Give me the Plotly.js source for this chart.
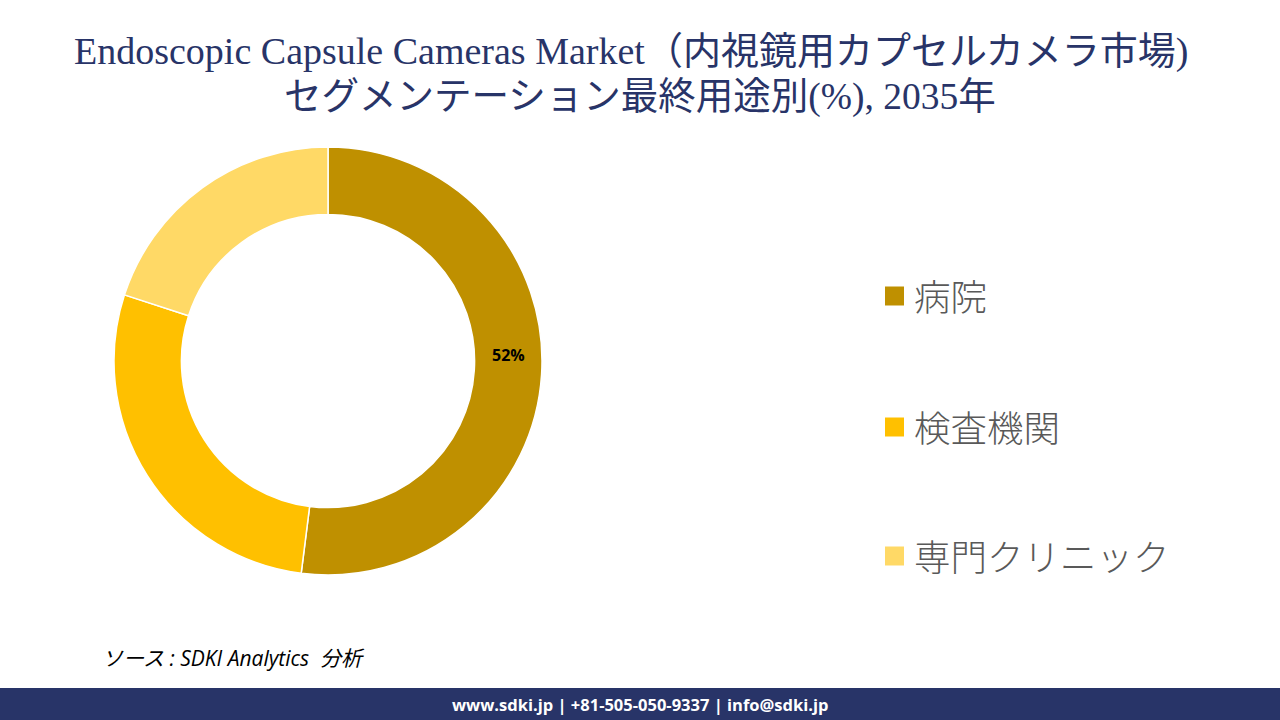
<!DOCTYPE html>
<html><head><meta charset="utf-8">
<script src="https://cdn.plot.ly/plotly-3.0.1.min.js"></script>
<style>html,body{margin:0;padding:0;background:#fff;}#chart{width:1280px;height:720px;}</style>
</head><body><div id="chart"></div>
<script>
const categories = ['病院', '検査機関', '専門クリニック'];
const values = [52, 28, 20];
const colors = ['#BF9000', '#FFC000', '#FFD966'];
const shownLabels = [true, false, false];
const titleLines = ['Endoscopic Capsule Cameras Market（内視鏡用カプセルカメラ市場)', 'セグメンテーション最終用途別(%), 2035年'];
const sourceText = 'ソース : SDKI Analytics  分析';
const footerText = 'www.sdki.jp | +81-505-050-9337 | info@sdki.jp';

const cx = 328, cy = 361, R = 214, hole = 0.685;
const W = 1280, H = 720;

const trace = {
  type: 'pie',
  labels: categories,
  values: values,
  hole: hole,
  sort: false,
  direction: 'clockwise',
  rotation: 0,
  marker: {colors: colors, line: {color: '#ffffff', width: 1.5}},
  textinfo: 'none',
  hoverinfo: 'label+percent',
  showlegend: false,
  domain: {x: [(cx - R) / W, (cx + R) / W], y: [(H - cy - R) / H, (H - cy + R) / H]}
};

const shapes = [];
const annotations = [];

// slice value labels, placed on the ring near the slice mid-angle
const total = values.reduce((a, b) => a + b, 0);
let cum = 0;
values.forEach((v, i) => {
  const mid = (cum + v * 0.47) / total * 2 * Math.PI;
  cum += v;
  if (!shownLabels[i]) return;
  const rr = R * (1 + hole) / 2;
  const px = cx + rr * Math.sin(mid), py = cy - rr * Math.cos(mid);
  annotations.push({xref: 'paper', yref: 'paper', x: px / W, y: (H - py) / H,
    xanchor: 'center', yanchor: 'middle', showarrow: false, text: '<b>' + v + '%</b>',
    font: {family: 'Open Sans, Liberation Sans, sans-serif', size: 16, color: '#000000'}});
});

const legendY = [296, 427, 556];
categories.forEach((c, i) => {
  shapes.push({type: 'rect', xref: 'paper', yref: 'paper',
    x0: 885 / W, x1: 904 / W, y0: (H - legendY[i] - 9.5) / H, y1: (H - legendY[i] + 9.5) / H,
    fillcolor: colors[i], line: {width: 0}});
  annotations.push({xref: 'paper', yref: 'paper', x: 912 / W, y: (H - legendY[i] + 1) / H,
    xanchor: 'left', yanchor: 'middle', showarrow: false, text: c,
    font: {family: 'Noto Sans CJK JP, Noto Sans, sans-serif', size: 36.5, color: '#595959', weight: 300}});
});
// footer band
shapes.push({type: 'rect', xref: 'paper', yref: 'paper', x0: 0, x1: 1, y0: 0, y1: 32 / H,
  fillcolor: '#283468', line: {width: 0}, layer: 'below'});
annotations.push({xref: 'paper', yref: 'paper', x: 0.5, y: 16 / H, xanchor: 'center', yanchor: 'middle',
  showarrow: false, text: '<b>' + footerText + '</b>',
  font: {family: 'Open Sans, Liberation Sans, sans-serif', size: 16.5, color: '#ffffff'}});
// source
annotations.push({xref: 'paper', yref: 'paper', x: 100 / W, y: (H - 658) / H, xanchor: 'left', yanchor: 'middle',
  showarrow: false, text: '<i>' + sourceText + '</i>',
  font: {family: 'Open Sans, Noto Sans CJK JP, sans-serif', size: 21, color: '#000000'}});
// title lines
annotations.push({xref: 'paper', yref: 'paper', x: 631 / W, y: (H - 52) / H, xanchor: 'center', yanchor: 'middle',
  showarrow: false, text: titleLines[0],
  font: {family: 'Liberation Serif, Noto Sans CJK JP, serif', size: 38, color: '#283468'}});
annotations.push({xref: 'paper', yref: 'paper', x: 640 / W, y: (H - 97) / H, xanchor: 'center', yanchor: 'middle',
  showarrow: false, text: titleLines[1],
  font: {family: 'Liberation Serif, Noto Sans CJK JP, serif', size: 37.5, color: '#283468'}});

const layout = {
  width: W, height: H,
  margin: {l: 0, r: 0, t: 0, b: 0},
  paper_bgcolor: '#ffffff',
  showlegend: false,
  shapes: shapes,
  annotations: annotations
};
Plotly.newPlot('chart', [trace], layout, {displayModeBar: false, staticPlot: true});
</script></body></html>
